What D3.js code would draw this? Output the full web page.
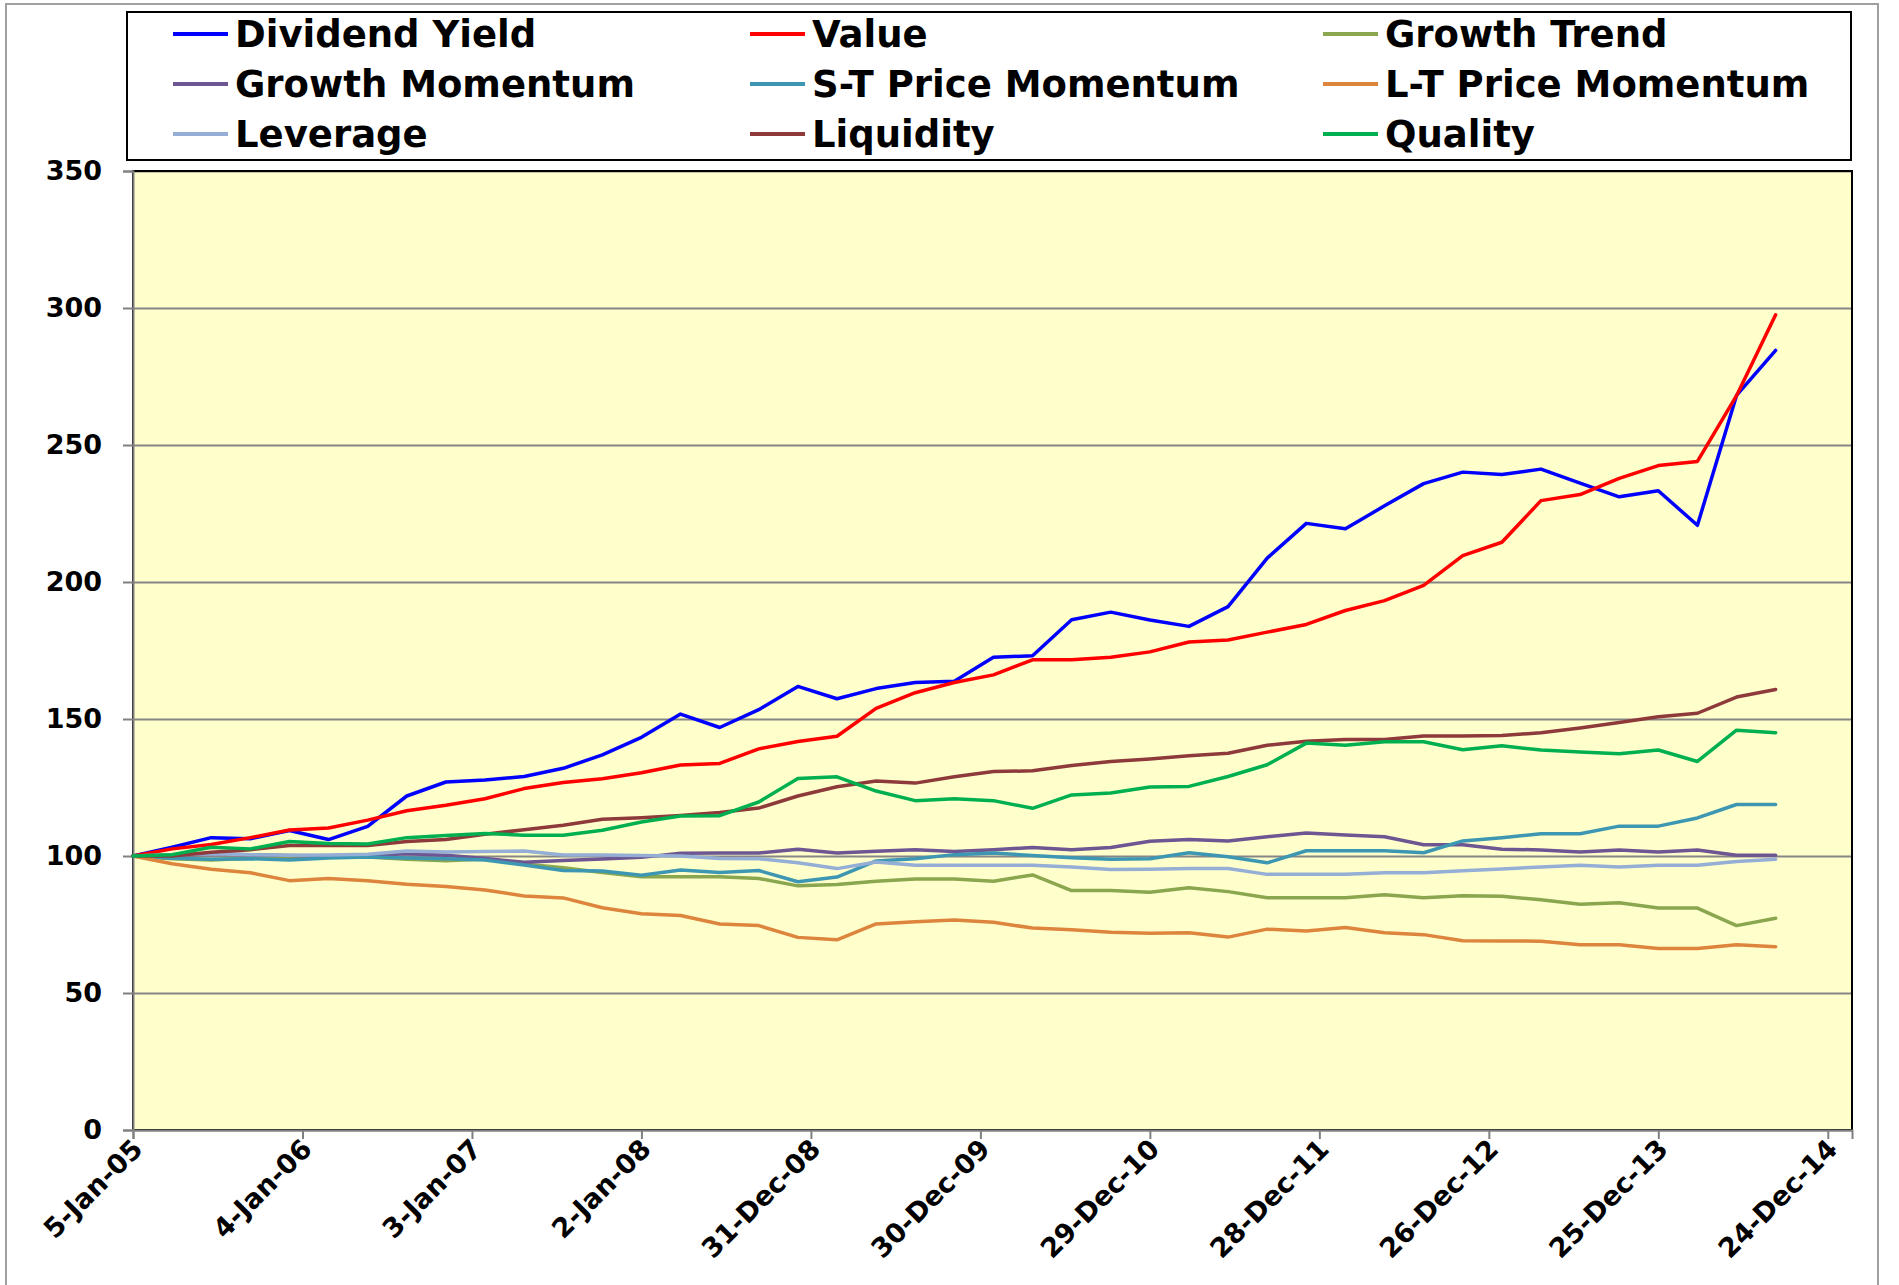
<!DOCTYPE html>
<html>
<head>
<meta charset="utf-8">
<script src="https://cdnjs.cloudflare.com/ajax/libs/d3/7.8.5/d3.min.js"></script>
<style>
  body { margin: 0; background: #ffffff; }
  svg { display: block; }
  .axis text { font-family: "DejaVu Sans", Verdana, sans-serif; font-weight: bold; fill: #000; }
  .legend text { font-family: "DejaVu Sans", Verdana, sans-serif; font-weight: bold; fill: #000; }
</style>
</head>
<body>
<svg width="1899" height="1285"></svg>
<script>

// dates of the observations (every 12 weeks)
var dates = ['2005-01-05', '2005-03-30', '2005-06-22', '2005-09-14', '2005-12-07', '2006-03-01', '2006-05-24',
  '2006-08-16', '2006-11-08', '2007-01-31', '2007-04-25', '2007-07-18', '2007-10-10', '2008-01-02',
  '2008-03-26', '2008-06-18', '2008-09-10', '2008-12-03', '2009-02-25', '2009-05-20', '2009-08-12',
  '2009-11-04', '2010-01-27', '2010-04-21', '2010-07-14', '2010-10-06', '2010-12-29', '2011-03-23',
  '2011-06-15', '2011-09-07', '2011-11-30', '2012-02-22', '2012-05-16', '2012-08-08', '2012-10-31',
  '2013-01-23', '2013-04-17', '2013-07-10', '2013-10-02', '2013-12-25', '2014-03-19', '2014-06-11',
  '2014-09-03'];

var tickDates = ['2005-01-05', '2006-01-04', '2007-01-03', '2008-01-02', '2008-12-31', '2009-12-30',
  '2010-12-29', '2011-12-28', '2012-12-26', '2013-12-25', '2014-12-24'];

var yTicks = [0, 50, 100, 150, 200, 250, 300, 350];

var seriesNames = ['Dividend Yield', 'Value', 'Growth Trend', 'Growth Momentum', 'S-T Price Momentum',
  'L-T Price Momentum', 'Leverage', 'Liquidity', 'Quality'];

var seriesColors = ['#0000ff', '#ff0000', '#8aa64e', '#6e5693', '#3d97b2', '#dd853c', '#94aed6', '#8e3a3a', '#00b050'];

var dividendYield = [100, 103.2, 106.7, 106.3, 109.3, 106.0, 110.8, 121.9, 127.0, 127.7, 129.0, 132.0, 136.9, 143.3,
  151.8, 146.9, 153.4, 161.9, 157.4, 161.1, 163.3, 163.8, 172.5, 173.1, 186.2, 189.0, 186.1, 183.8, 191.0,
  208.7, 221.4, 219.4, 227.8, 235.9, 240.1, 239.2, 241.2, 236.1, 231.1, 233.3, 220.7, 268.1, 284.5];

var value = [100, 102.6, 104.2, 106.7, 109.5, 110.2, 113.1, 116.5, 118.5, 120.9, 124.6, 126.8, 128.2, 130.4,
  133.2, 133.8, 139.1, 141.8, 143.7, 153.9, 159.6, 163.3, 166.1, 171.6, 171.6, 172.5, 174.5, 178.1, 178.8,
  181.7, 184.5, 189.6, 193.2, 198.8, 209.6, 214.5, 229.7, 231.9, 237.8, 242.5, 244.0, 268.0, 297.5];

var growthTrend = [100, 99.0, 98.5, 99.2, 99.5, 99.8, 99.6, 98.8, 98.3, 98.9, 97.1, 95.7, 94.0, 92.4,
  92.4, 92.4, 91.8, 89.1, 89.6, 90.8, 91.6, 91.6, 90.8, 93.1, 87.4, 87.4, 86.8, 88.4, 87.0,
  84.8, 84.8, 84.8, 85.9, 84.8, 85.5, 85.3, 84.0, 82.4, 82.9, 81.0, 81.0, 74.6, 77.3];

var growthMomentum = [100, 100.3, 100.8, 100.5, 100.2, 100.0, 100.2, 100.8, 100.3, 99.1, 97.7, 98.4, 98.9, 99.5,
  101.0, 101.1, 101.1, 102.5, 101.1, 101.7, 102.3, 101.6, 102.3, 103.1, 102.3, 103.1, 105.4, 106.0, 105.5,
  107.0, 108.4, 107.7, 107.0, 104.1, 104.1, 102.5, 102.2, 101.5, 102.2, 101.5, 102.2, 100.3, 100.3];

var stPriceMomentum = [100, 99.2, 98.8, 99.0, 98.5, 99.3, 99.6, 99.3, 99.0, 98.5, 96.7, 94.7, 94.5, 93.0,
  94.9, 94.0, 94.7, 90.6, 92.3, 98.2, 99.0, 100.5, 101.1, 100.2, 99.4, 98.8, 99.0, 101.2, 99.7,
  97.5, 101.9, 101.9, 101.9, 101.2, 105.5, 106.7, 108.1, 108.1, 110.9, 110.9, 113.9, 118.8, 118.8];

var ltPriceMomentum = [100, 97.2, 95.2, 93.9, 91.0, 91.8, 91.0, 89.7, 88.9, 87.6, 85.4, 84.7, 81.1, 78.9,
  78.3, 75.2, 74.6, 70.3, 69.4, 75.2, 76.0, 76.6, 75.8, 73.7, 73.1, 72.2, 71.8, 72.0, 70.4,
  73.3, 72.6, 73.9, 72.0, 71.3, 69.1, 69.0, 68.9, 67.6, 67.6, 66.2, 66.2, 67.6, 66.9];

var leverage = [100, 100.5, 100.8, 100.5, 100.3, 100.4, 100.6, 101.8, 101.5, 101.6, 101.8, 100.4, 100.4, 100.2,
  100.0, 99.1, 99.0, 97.5, 95.4, 97.8, 96.6, 96.6, 96.6, 96.6, 96.0, 95.1, 95.2, 95.4, 95.4,
  93.3, 93.3, 93.3, 93.9, 93.9, 94.6, 95.3, 96.0, 96.6, 96.0, 96.6, 96.6, 98.0, 98.8];

var liquidity = [100, 100.0, 101.4, 102.3, 103.8, 103.8, 103.8, 105.3, 106.0, 107.9, 109.6, 111.2, 113.4, 114.0,
  114.8, 115.9, 117.5, 121.9, 125.3, 127.4, 126.6, 128.9, 130.8, 131.1, 133.0, 134.5, 135.4, 136.6, 137.5,
  140.4, 141.9, 142.5, 142.5, 143.8, 143.8, 144.0, 145.0, 146.7, 148.7, 150.8, 152.1, 158.0, 160.8];

var quality = [100, 100.5, 103.2, 102.6, 105.3, 104.6, 104.4, 106.7, 107.5, 108.2, 107.6, 107.6, 109.4, 112.4,
  114.6, 114.7, 119.7, 128.3, 128.9, 123.7, 120.2, 120.9, 120.2, 117.4, 122.3, 123.0, 125.2, 125.4, 129.0,
  133.3, 141.2, 140.4, 141.7, 141.7, 138.8, 140.2, 138.7, 138.0, 137.3, 138.7, 134.5, 145.9, 145.0];

var seriesValues = [dividendYield, value, growthTrend, growthMomentum, stPriceMomentum,
  ltPriceMomentum, leverage, liquidity, quality];


var parseDate = d3.utcParse('%Y-%m-%d');
var formatDate = d3.utcFormat('%-d-%b-%y');

var plot = { left: 133, right: 1852, top: 171, bottom: 1130 };

var xScale = d3.scaleUtc()
  .domain([parseDate('2005-01-05'), parseDate('2015-02-14')])
  .range([plot.left, plot.right]);

var yScale = d3.scaleLinear()
  .domain([0, 350])
  .range([plot.bottom, plot.top]);

var svg = d3.select('svg');

// outer chart border
svg.append('rect')
  .attr('x', 6).attr('y', 4)
  .attr('width', 1872).attr('height', 1300)
  .attr('fill', '#ffffff')
  .attr('stroke', '#a0a0a0')
  .attr('stroke-width', 2);

// plot area
svg.append('rect')
  .attr('x', plot.left).attr('y', plot.top)
  .attr('width', plot.right - plot.left).attr('height', plot.bottom - plot.top)
  .attr('fill', '#ffffcc');

// gridlines
svg.append('g')
  .attr('transform', 'translate(' + plot.left + ',0)')
  .call(d3.axisLeft(yScale).tickValues(yTicks).tickSize(-(plot.right - plot.left)).tickFormat(''))
  .call(g => g.select('.domain').remove())
  .selectAll('line')
  .attr('stroke', '#868686')
  .attr('stroke-width', 2);

svg.append('rect')
  .attr('x', plot.left).attr('y', plot.top)
  .attr('width', plot.right - plot.left).attr('height', plot.bottom - plot.top)
  .attr('fill', 'none')
  .attr('stroke', '#000000')
  .attr('stroke-width', 2);

// y axis
var yAxis = svg.append('g')
  .attr('class', 'axis')
  .attr('transform', 'translate(' + plot.left + ',0)')
  .call(d3.axisLeft(yScale).tickValues(yTicks).tickSize(10).tickPadding(21));

yAxis.selectAll('text').style('font-size', '27px');

// x axis
var xAxis = svg.append('g')
  .attr('class', 'axis')
  .attr('transform', 'translate(0,' + plot.bottom + ')')
  .call(d3.axisBottom(xScale).tickValues(tickDates.map(parseDate)).tickSize(9).tickFormat(formatDate));

xAxis.selectAll('text')
  .style('font-size', '27px')
  .attr('text-anchor', 'end')
  .attr('x', 0).attr('y', 0).attr('dy', '0.35em')
  .attr('transform', 'translate(4,14) rotate(-45)');

svg.selectAll('.axis .domain, .axis line')
  .attr('stroke', '#808080')
  .attr('stroke-width', 2);


// series lines
var line = d3.line()
  .x(d => xScale(d.date))
  .y(d => yScale(d.value));

var seriesData = seriesNames.map((name, i) => ({
  name: name,
  color: seriesColors[i],
  points: dates.map((dt, j) => ({ date: parseDate(dt), value: seriesValues[i][j] }))
}));

svg.append('g')
  .selectAll('path')
  .data(seriesData)
  .enter()
  .append('path')
  .attr('d', d => line(d.points))
  .attr('fill', 'none')
  .attr('stroke', d => d.color)
  .attr('stroke-width', 3.5)
  .attr('stroke-linejoin', 'round')
  .attr('stroke-linecap', 'round');


// legend
var legend = svg.append('g').attr('class', 'legend');

legend.append('rect')
  .attr('x', 127).attr('y', 12)
  .attr('width', 1724).attr('height', 148)
  .attr('fill', '#ffffff')
  .attr('stroke', '#000000')
  .attr('stroke-width', 2);

var legendCols = [173, 750, 1323];
var legendRows = [47, 97, 147];

var item = legend.selectAll('g.item')
  .data(seriesData)
  .enter()
  .append('g')
  .attr('class', 'item')
  .attr('transform', (d, i) => 'translate(' + legendCols[i % 3] + ',' + legendRows[Math.floor(i / 3)] + ')');

item.append('line')
  .attr('x1', 0).attr('x2', 55)
  .attr('y1', -13).attr('y2', -13)
  .attr('stroke', d => d.color)
  .attr('stroke-width', 4);

item.append('text')
  .attr('x', 62)
  .attr('y', 0)
  .style('font-size', '37px')
  .text(d => d.name);

</script>
</body>
</html>
